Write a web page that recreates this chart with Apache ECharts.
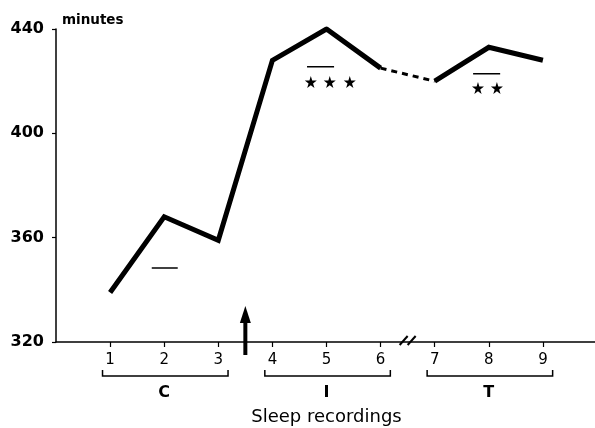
<!DOCTYPE html>
<html>
<head>
<meta charset="utf-8">
<script src="https://cdn.jsdelivr.net/npm/echarts@6/dist/echarts.min.js"></script>
<style>
  html, body { margin: 0; padding: 0; background: #fff; }
  #chart { width: 595px; height: 428px; }
</style>
</head>
<body>
<div id="chart"></div>
<script>
// Total sleep time per recording night (minutes)
const recordings = [1, 2, 3, 4, 5, 6, 7, 8, 9];
const minutes = [339, 368, 359, 428, 440, 425, 420, 433, 428];
const yTicks = [320, 360, 400, 440];

// Recording phases shown under the axis
const phases = [
  { name: 'C', first: 1, last: 3 },
  { name: 'I', first: 4, last: 6 },
  { name: 'T', first: 7, last: 9 }
];

// Reference bars and significance stars (data space)
const refBars = [
  { from: 1.77, to: 2.25, value: 348.4 },
  { from: 4.64, to: 5.14, value: 425.5 },
  { from: 7.71, to: 8.21, value: 422.8 }
];
const starsAt = [
  [4.71, 419.7], [5.06, 419.7], [5.43, 419.7],
  [7.80, 417.4], [8.15, 417.4]
];

// Drug start between recordings 3 and 4; axis break between 6 and 7
const drugStart = 3.5;
const axisBreak = 6.5;

const FONT = '"DejaVu Sans", "Liberation Sans", Arial, sans-serif';
const STAR = 'path://M50,0 L61,35 L98,35 L68,57 L79,91 L50,70 L21,91 L32,57 L2,35 L39,35 Z';

const pts = recordings.map((r, i) => [r, minutes[i]]);
const solidA = pts.slice(0, 6);
const dashed = pts.slice(5, 7);
const solidB = pts.slice(6);

const chart = echarts.init(document.getElementById('chart'), null, { renderer: 'canvas' });

const lineStyle = { color: '#000', width: 5, join: 'miter', cap: 'butt' };

chart.setOption({
  animation: false,
  backgroundColor: '#fff',
  grid: { left: 56, right: -2, top: 29, bottom: 86, containLabel: false, outerBoundsMode: 'none' },
  xAxis: {
    type: 'value', min: 0, max: 10, interval: 1,
    axisLine: { show: true, lineStyle: { color: '#000', width: 1.5 } },
    axisTick: { show: true, inside: false, length: 5, customValues: recordings,
      lineStyle: { color: '#000', width: 1.2 } },
    axisLabel: { show: true, customValues: recordings, margin: 11,
      color: '#000', fontFamily: FONT, fontSize: 15 },
    splitLine: { show: false },
    name: 'Sleep recordings', nameLocation: 'middle', nameGap: 66,
    nameTextStyle: { color: '#000', fontFamily: FONT, fontSize: 18 }
  },
  yAxis: {
    type: 'value', min: yTicks[0], max: yTicks[yTicks.length - 1], interval: 40,
    axisLine: { show: true, lineStyle: { color: '#000', width: 1.5 } },
    axisTick: { show: true, inside: false, length: 4, lineStyle: { color: '#000', width: 1.2 } },
    axisLabel: { margin: 12, color: '#000', fontFamily: FONT, fontSize: 16, fontWeight: 'bold' },
    splitLine: { show: false },
    name: 'minutes', nameLocation: 'end', nameGap: 2,
    nameTextStyle: { color: '#000', fontFamily: FONT, fontSize: 13.5, fontWeight: 'bold',
      align: 'left', verticalAlign: 'bottom', padding: [0, 0, 0, 6] }
  },
  series: [
    { type: 'line', data: solidA, symbol: 'none', lineStyle: lineStyle, z: 3 },
    { type: 'line', data: dashed, symbol: 'none',
      lineStyle: { color: '#000', width: 3, type: [6, 5] }, z: 3 },
    { type: 'line', data: solidB, symbol: 'none', lineStyle: lineStyle, z: 3 },
    ...refBars.map(b => ({
      type: 'line', data: [[b.from, b.value], [b.to, b.value]], symbol: 'none',
      lineStyle: { color: '#000', width: 1.5 }
    })),
    { type: 'scatter', data: starsAt, symbol: STAR, symbolSize: 12,
      itemStyle: { color: '#000', opacity: 1 } }
  ]
});

function drawDecorations() {
  const px = v => chart.convertToPixel({ xAxisIndex: 0 }, v);
  const py = v => chart.convertToPixel({ yAxisIndex: 0 }, v);
  const baseY = py(yTicks[0]);
  const elements = [];

  // Phase brackets with their labels
  phases.forEach(p => {
    const x0 = px(p.first - 0.14), x1 = px(p.last + 0.18);
    const y = baseY + 34;
    elements.push({
      type: 'polyline', silent: true,
      shape: { points: [[x0, y - 6], [x0, y], [x1, y], [x1, y - 6]] },
      style: { stroke: '#000', lineWidth: 1.5, fill: null }
    });
    elements.push({
      type: 'text', silent: true,
      x: px((p.first + p.last) / 2), y: baseY + 51,
      style: { text: p.name, fill: '#000', font: 'bold 16px ' + FONT,
        align: 'center', verticalAlign: 'middle' }
    });
  });

  // Arrow marking treatment start
  const ax = px(drugStart);
  elements.push({
    type: 'line', silent: true,
    shape: { x1: ax, y1: baseY + 13, x2: ax, y2: baseY - 22 },
    style: { stroke: '#000', lineWidth: 4 }
  });
  elements.push({
    type: 'polygon', silent: true,
    shape: { points: [[ax, baseY - 36], [ax - 5.5, baseY - 19], [ax + 5.5, baseY - 19]] },
    style: { fill: '#000' }
  });

  // Axis break marks
  const bx = px(axisBreak);
  [-4, 4].forEach(dx => {
    elements.push({
      type: 'line', silent: true,
      shape: { x1: bx + dx - 4, y1: baseY + 3, x2: bx + dx + 4, y2: baseY - 6 },
      style: { stroke: '#000', lineWidth: 2 }
    });
  });

  chart.setOption({ graphic: { elements: elements } });
}

drawDecorations();
</script>
</body>
</html>
